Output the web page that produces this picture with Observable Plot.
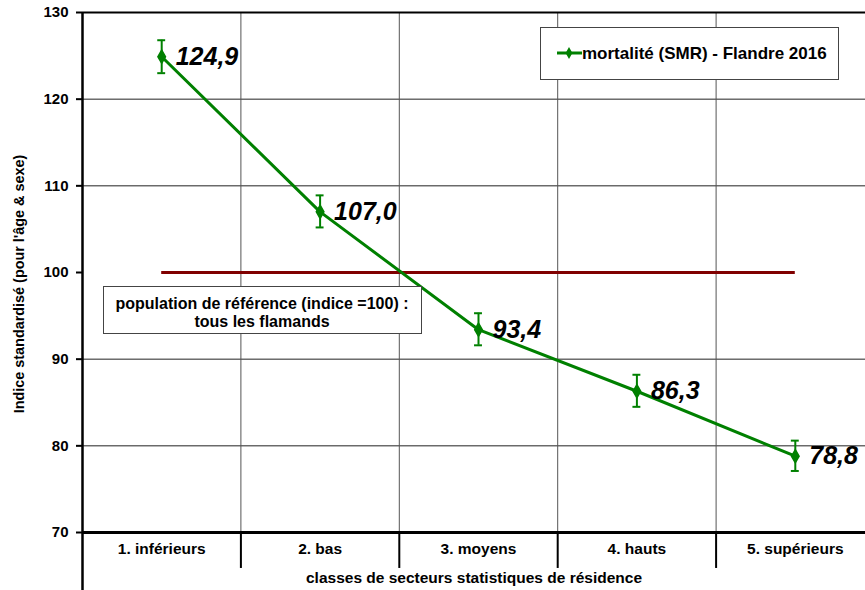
<!DOCTYPE html>
<html>
<head>
<meta charset="utf-8">
<script src="https://cdn.jsdelivr.net/npm/d3@7"></script>
<script src="https://cdn.jsdelivr.net/npm/@observablehq/plot@0.6"></script>
<style>
  html, body { margin: 0; padding: 0; background: #fff; }
  svg { font-family: "Liberation Sans", Arial, sans-serif; font-weight: bold; }
</style>
</head>
<body>
<div id="chart"></div>
<script>
const categories = ["1. inférieurs", "2. bas", "3. moyens", "4. hauts", "5. supérieurs"];
const smr = [124.9, 107.0, 93.4, 86.3, 78.8];
const ciLow = [123.0, 105.2, 91.6, 84.5, 77.1];
const ciHigh = [126.8, 108.9, 95.3, 88.2, 80.6];
const yTicks = [70, 80, 90, 100, 110, 120, 130];
const referenceValue = 100;
const seriesName = "mortalité (SMR) - Flandre 2016";
const referenceText = ["population de référence (indice =100) :", "tous les flamands"];
const xTitle = "classes de secteurs statistiques de résidence";
const yTitle = "Indice standardisé (pour l'âge & sexe)";

const data = categories.map((c, i) => ({i: i + 1, cat: c, v: smr[i], lo: ciLow[i], hi: ciHigh[i]}));
const idx = data.map(d => d.i);
const bounds = idx.slice(0, -1).map(i => i + 0.5);
const green = "#008000";
const fmt = v => v.toFixed(1).replace(".", ",");

const chart = Plot.plot({
  width: 865,
  height: 590,
  marginLeft: 82,
  marginTop: 12,
  marginBottom: 58,
  marginRight: 0,
  x: {type: "linear", domain: [0.5, 5.5], range: [82, 874]},
  y: {domain: [70, 130], range: [532, 12]},
  marks: [
    // gridlines
    Plot.ruleY(yTicks.filter(t => t !== 70 && t !== 130 && t !== referenceValue), {stroke: "#222", strokeWidth: 1}),
    Plot.ruleX(bounds, {y1: 130, y2: 70, stroke: "#555", strokeWidth: 1}),
    // separators below axis
    Plot.ruleX(bounds, {y1: 70, y2: 65.85, stroke: "#000", strokeWidth: 2}),
    // reference line
    Plot.ruleY([referenceValue], {x1: idx[0], x2: idx[idx.length - 1], stroke: "#800000", strokeWidth: 3}),
    // frame lines
    Plot.ruleY([130], {stroke: "#000", strokeWidth: 2}),
    Plot.ruleY([70], {stroke: "#000", strokeWidth: 3}),
    Plot.ruleX([0.5], {y1: 130, y2: 63.2, stroke: "#000", strokeWidth: 2.5}),
    // axes
    Plot.axisY(yTicks, {tickSize: 6, tickPadding: 8, fontSize: 15, fontWeight: "bold", stroke: "#000", strokeWidth: 2, label: null}),
    Plot.axisX(idx, {tickSize: 0, tickPadding: 10, fontSize: 15.5, fontWeight: "bold", tickFormat: i => categories[i - 1], label: null}),
    Plot.text([xTitle], {frameAnchor: "bottom", dy: 46, fontSize: 15.5, fontWeight: "bold", lineAnchor: "middle"}),
    // series line
    Plot.line(data, {x: "i", y: "v", stroke: green, strokeWidth: 3}),
    // error bars
    Plot.ruleX(data, {x: "i", y1: "lo", y2: "hi", stroke: green, strokeWidth: 2}),
    Plot.ruleY(data, {y: "lo", x1: d => d.i - 0.025, x2: d => d.i + 0.025, stroke: green, strokeWidth: 2}),
    Plot.ruleY(data, {y: "hi", x1: d => d.i - 0.025, x2: d => d.i + 0.025, stroke: green, strokeWidth: 2}),
    Plot.dot(data, {x: "i", y: "v", symbol: "diamond", r: 4, fill: green, stroke: green}),
    // value labels
    Plot.text(data, {x: "i", y: "v", text: d => fmt(d.v), dx: 14, textAnchor: "start", fontSize: 25, fontWeight: "bold", fontStyle: "italic", fill: "#000"})
  ]
});

const svg = d3.select(chart);
// y-axis title
svg.append("text")
  .attr("transform", "translate(19,284) rotate(-90)")
  .attr("text-anchor", "middle")
  .attr("dy", "0.35em")
  .attr("font-size", 14.4)
  .attr("font-weight", "bold")
  .text(yTitle);

// legend box
const lg = svg.append("g");
lg.append("rect").attr("x", 540.5).attr("y", 27.5).attr("width", 298).attr("height", 52)
  .attr("fill", "#fff").attr("stroke", "#444").attr("stroke-width", 1);
lg.append("line").attr("x1", 557).attr("x2", 582).attr("y1", 53).attr("y2", 53)
  .attr("stroke", green).attr("stroke-width", 3);
lg.append("path").attr("d", d3.symbol(d3.symbolDiamond, 40)()).attr("transform", "translate(569,53)")
  .attr("fill", green);
lg.append("text").attr("x", 582).attr("y", 53).attr("dy", "0.35em")
  .attr("text-anchor", "start")
  .attr("font-size", 17).attr("font-weight", "bold").text(seriesName);

// reference box
const rb = svg.append("g");
rb.append("rect").attr("x", 103.5).attr("y", 286.5).attr("width", 318).attr("height", 47)
  .attr("fill", "#fff").attr("stroke", "#444").attr("stroke-width", 1);
rb.selectAll("text.r").data(referenceText).join("text")
  .attr("x", 262).attr("y", (d, k) => 303 + k * 18.5).attr("dy", "0.35em")
  .attr("text-anchor", "middle").attr("font-size", 16).attr("font-weight", "bold").text(d => d);

document.getElementById("chart").appendChild(chart);
</script>
</body>
</html>
